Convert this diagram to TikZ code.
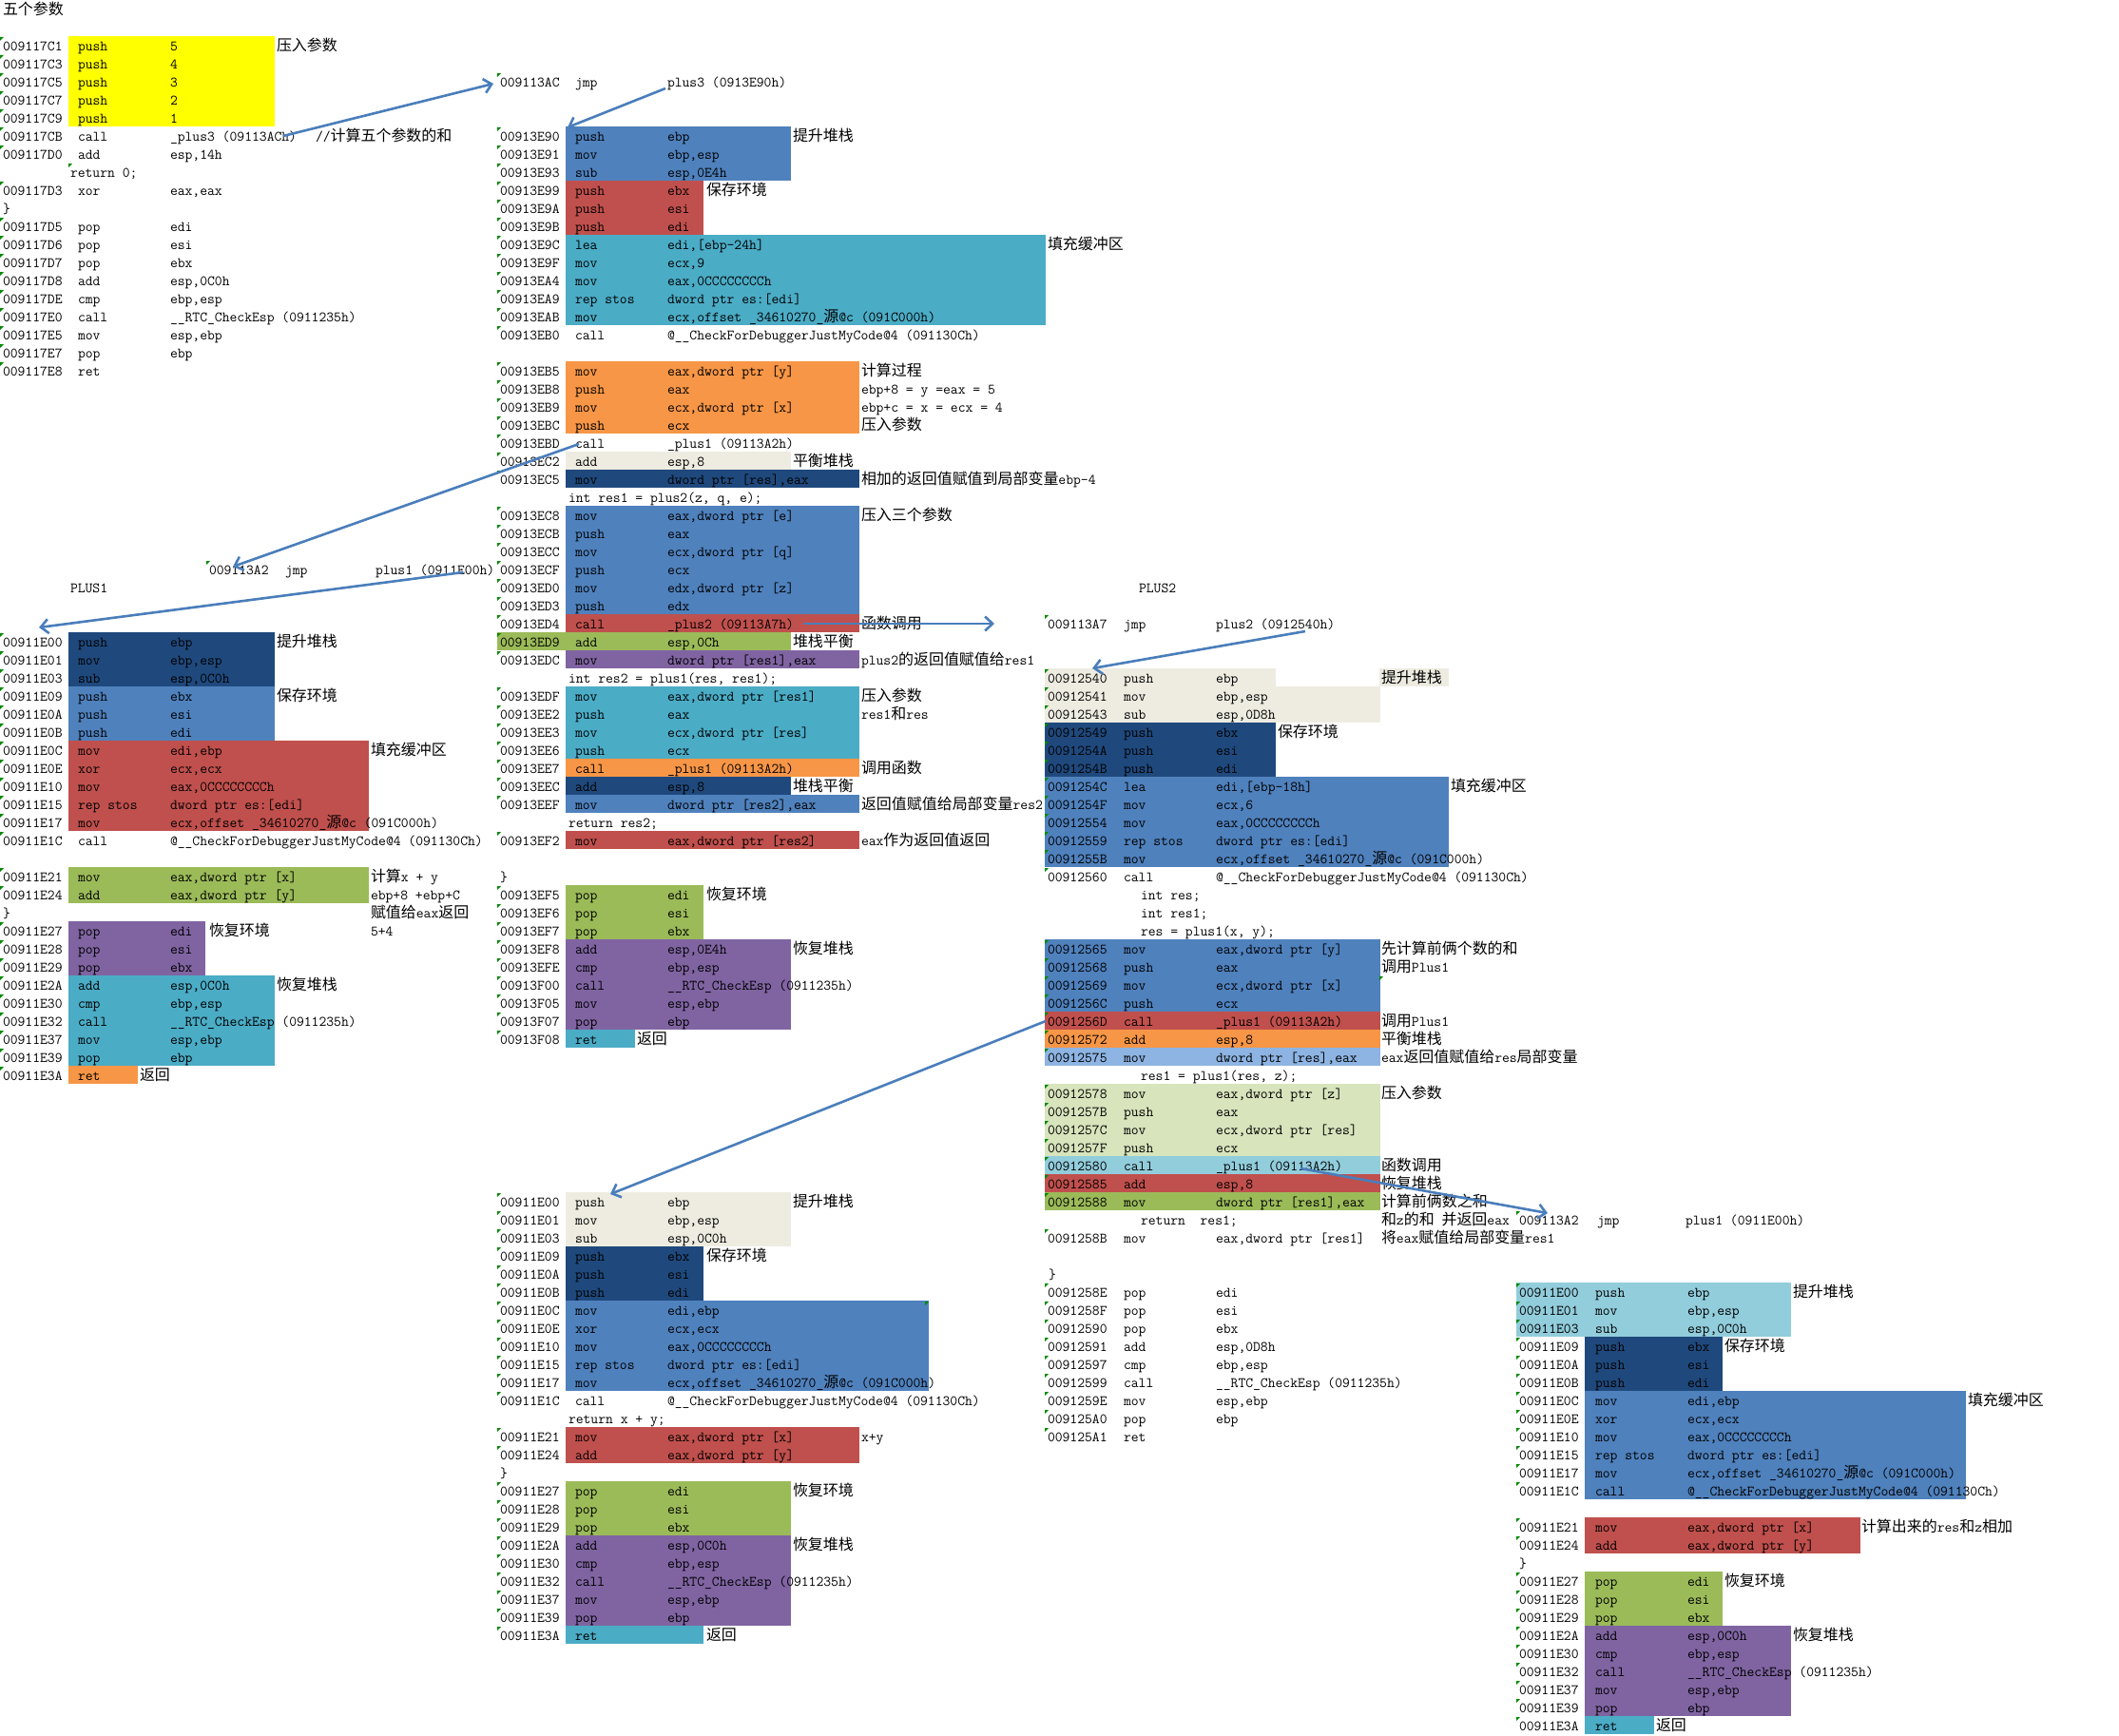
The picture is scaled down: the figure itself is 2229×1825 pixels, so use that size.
\documentclass[tikz,border=0pt]{standalone}
\usepackage{fontspec}
\newfontfamily\cjk{Noto Sans CJK SC}[Scale=1.05]
\usetikzlibrary{arrows.meta}
\definecolor{cYel}{HTML}{FFFF00}
\definecolor{cNavy}{HTML}{1F497D}
\definecolor{cBlue}{HTML}{4F81BD}
\definecolor{cRed}{HTML}{C0504D}
\definecolor{cAqua}{HTML}{4BACC6}
\definecolor{cOrg}{HTML}{F79646}
\definecolor{cBeige}{HTML}{EEECE1}
\definecolor{cGreen}{HTML}{9BBB59}
\definecolor{cPurp}{HTML}{8064A2}
\definecolor{cLBlue}{HTML}{8DB4E2}
\definecolor{cLGreen}{HTML}{D7E4BC}
\definecolor{cLAqua}{HTML}{92CDDC}
\definecolor{cArr}{HTML}{4A7EBB}
\definecolor{cTri}{HTML}{008A00}
\newcount\nodecnt
\newcommand\zh[1]{{\cjk #1}}
\newcommand\Tx[3]{\global\advance\nodecnt by 1 \node[txt,name=t\the\nodecnt] at (#1,{19*(#2)+15.5}) {#3};}
\newcommand\Tri[2]{\fill[tri] ({#1},{19*(#2)+1}) -- ++(4,0) -- ++(-4,4) -- cycle;}
\newcommand\Ln[4]{\Tri{\xa-3}{#1}\Tx{\xa}{#1}{#2}\Tx{\xm}{#1}{#3}\Tx{\xo}{#1}{#4}}
\newcommand\Bx[5]{\fill[#1] (#2,{19*(#4)}) rectangle (#3,{19*(#5)+19});}
\begin{document}
\begin{tikzpicture}[x=1pt,y=-1pt,
  txt/.style={anchor=base west,inner sep=0pt,outer sep=0pt,font=\fontsize{15.2}{19}\selectfont\ttfamily},
  tri/.style={fill=cTri},
  arr/.style={draw=cArr,line width=2.6pt,-{Straight Barb[length=8pt,width=15pt]}}]
\useasboundingbox (0,0) rectangle (2229,1825);
\fill[white] (0,0) rectangle (2229,1825);
% ================= boxes =================
% col1
\Bx{cYel}{72}{289}{2}{6}
\Bx{cNavy}{72}{289}{35}{37}
\Bx{cBlue}{72}{289}{38}{40}
\Bx{cRed}{72}{387.5}{41}{45}
\Bx{cGreen}{72}{387.5}{48}{49}
\Bx{cPurp}{72}{216}{51}{53}
\Bx{cAqua}{72}{289}{54}{58}
\Bx{cOrg}{72}{145}{59}{59}
% col2 top
\Bx{cBlue}{595}{832}{7}{9}
\Bx{cRed}{595}{740}{10}{12}
\Bx{cAqua}{595}{1100}{13}{17}
\Bx{cOrg}{595}{904}{20}{23}
\Bx{cBeige}{595}{832}{25}{25}
\Bx{cNavy}{595}{904}{26}{26}
\Bx{cBlue}{595}{904}{28}{33}
\Bx{cRed}{595}{904}{34}{34}
\Bx{cGreen}{523}{832}{35}{35}
\Bx{cPurp}{595}{904}{36}{36}
\Bx{cAqua}{595}{904}{38}{41}
\Bx{cOrg}{595}{904}{42}{42}
\Bx{cNavy}{595}{832}{43}{43}
\Bx{cBlue}{595}{904}{44}{44}
\Bx{cRed}{595}{904}{46}{46}
\Bx{cGreen}{595}{740}{49}{51}
\Bx{cPurp}{595}{832}{52}{56}
\Bx{cAqua}{595}{668}{57}{57}
% col2 bottom
\Bx{cBeige}{595}{832}{66}{68}
\Bx{cNavy}{595}{740}{69}{71}
\Bx{cBlue}{595}{977}{72}{76}
\Bx{cRed}{595}{904}{79}{80}
\Bx{cGreen}{595}{832}{82}{84}
\Bx{cPurp}{595}{832}{85}{89}
\Bx{cAqua}{595}{740}{90}{90}
% col3
\Bx{cBeige}{1099}{1342}{37}{37}
\Bx{cBeige}{1451}{1524}{37}{37}
\Bx{cBeige}{1099}{1452}{38}{39}
\Bx{cNavy}{1099}{1342}{40}{42}
\Bx{cBlue}{1099}{1524}{43}{47}
\Bx{cBlue}{1099}{1452}{52}{55}
\Bx{cRed}{1099}{1452}{56}{56}
\Bx{cOrg}{1099}{1452}{57}{57}
\Bx{cLBlue}{1099}{1452}{58}{58}
\Bx{cLGreen}{1099}{1452}{60}{63}
\Bx{cLAqua}{1099}{1452}{64}{64}
\Bx{cRed}{1099}{1452}{65}{65}
\Bx{cGreen}{1099}{1452}{66}{66}
% col4
\Bx{cLAqua}{1595}{1884}{71}{73}
\Bx{cNavy}{1667}{1812}{74}{76}
\Bx{cBlue}{1667}{2068}{77}{82}
\Bx{cRed}{1667}{1957}{84}{85}
\Bx{cGreen}{1667}{1812}{87}{89}
\Bx{cPurp}{1667}{1884}{90}{94}
\Bx{cAqua}{1667}{1740}{95}{95}
% ================= column 1 =================
\def\xa{3}\def\xm{82}\def\xo{179}
\Tx{3}{0}{\zh{五个参数}}
\Ln{2}{009117C1}{push}{5}
\Ln{3}{009117C3}{push}{4}
\Ln{4}{009117C5}{push}{3}
\Ln{5}{009117C7}{push}{2}
\Ln{6}{009117C9}{push}{1}
\Tx{291}{2}{\zh{压入参数}}
\Ln{7}{009117CB}{call}{\_plus3 (09113ACh)}
\Tx{332}{7}{//\zh{计算五个参数的和}}
\Ln{8}{009117D0}{add}{esp,14h}
\Tri{72}{9}\Tx{74}{9}{return 0;}
\Ln{10}{009117D3}{xor}{eax,eax}
\Tx{3}{11}{\}}
\Ln{12}{009117D5}{pop}{edi}
\Ln{13}{009117D6}{pop}{esi}
\Ln{14}{009117D7}{pop}{ebx}
\Ln{15}{009117D8}{add}{esp,0C0h}
\Ln{16}{009117DE}{cmp}{ebp,esp}
\Ln{17}{009117E0}{call}{\_\_RTC\_CheckEsp (0911235h)}
\Ln{18}{009117E5}{mov}{esp,ebp}
\Ln{19}{009117E7}{pop}{ebp}
\Ln{20}{009117E8}{ret}{}
% jmp plus1
\Tri{217}{31}\Tx{220}{31}{009113A2}\Tx{300}{31}{jmp}\Tx{395}{31}{plus1 (0911E00h)}
\Tx{74}{32}{PLUS1}
\Ln{35}{00911E00}{push}{ebp}
\Ln{36}{00911E01}{mov}{ebp,esp}
\Ln{37}{00911E03}{sub}{esp,0C0h}
\Ln{38}{00911E09}{push}{ebx}
\Ln{39}{00911E0A}{push}{esi}
\Ln{40}{00911E0B}{push}{edi}
\Ln{41}{00911E0C}{mov}{edi,ebp}
\Ln{42}{00911E0E}{xor}{ecx,ecx}
\Ln{43}{00911E10}{mov}{eax,0CCCCCCCCh}
\Ln{44}{00911E15}{rep stos}{dword ptr es:[edi]}
\Ln{45}{00911E17}{mov}{ecx,offset \_34610270\_\zh{源}@c (091C000h)}
\Ln{46}{00911E1C}{call}{@\_\_CheckForDebuggerJustMyCode@4 (091130Ch)}
\Ln{48}{00911E21}{mov}{eax,dword ptr [x]}
\Ln{49}{00911E24}{add}{eax,dword ptr [y]}
\Tx{3}{50}{\}}
\Ln{51}{00911E27}{pop}{edi}
\Ln{52}{00911E28}{pop}{esi}
\Ln{53}{00911E29}{pop}{ebx}
\Ln{54}{00911E2A}{add}{esp,0C0h}
\Ln{55}{00911E30}{cmp}{ebp,esp}
\Ln{56}{00911E32}{call}{\_\_RTC\_CheckEsp (0911235h)}
\Ln{57}{00911E37}{mov}{esp,ebp}
\Ln{58}{00911E39}{pop}{ebp}
\Ln{59}{00911E3A}{ret}{}
\Tx{291}{35}{\zh{提升堆栈}}
\Tx{291}{38}{\zh{保存环境}}
\Tx{390}{41}{\zh{填充缓冲区}}
\Tx{390}{48}{\zh{计算}x + y}
\Tx{390}{49}{ebp+8 +ebp+C}
\Tx{390}{50}{\zh{赋值给}eax\zh{返回}}
\Tx{390}{51}{5+4}
\Tx{220}{51}{\zh{恢复环境}}
\Tx{291}{54}{\zh{恢复堆栈}}
\Tx{147}{59}{\zh{返回}}
% ================= column 2 =================
\def\xa{526}\def\xm{605}\def\xo{702}
\Ln{4}{009113AC}{jmp}{plus3 (0913E90h)}
\Ln{7}{00913E90}{push}{ebp}
\Ln{8}{00913E91}{mov}{ebp,esp}
\Ln{9}{00913E93}{sub}{esp,0E4h}
\Ln{10}{00913E99}{push}{ebx}
\Ln{11}{00913E9A}{push}{esi}
\Ln{12}{00913E9B}{push}{edi}
\Ln{13}{00913E9C}{lea}{edi,[ebp-24h]}
\Ln{14}{00913E9F}{mov}{ecx,9}
\Ln{15}{00913EA4}{mov}{eax,0CCCCCCCCh}
\Ln{16}{00913EA9}{rep stos}{dword ptr es:[edi]}
\Ln{17}{00913EAB}{mov}{ecx,offset \_34610270\_\zh{源}@c (091C000h)}
\Ln{18}{00913EB0}{call}{@\_\_CheckForDebuggerJustMyCode@4 (091130Ch)}
\Ln{20}{00913EB5}{mov}{eax,dword ptr [y]}
\Ln{21}{00913EB8}{push}{eax}
\Ln{22}{00913EB9}{mov}{ecx,dword ptr [x]}
\Ln{23}{00913EBC}{push}{ecx}
\Ln{24}{00913EBD}{call}{\_plus1 (09113A2h)}
\Ln{25}{00913EC2}{add}{esp,8}
\Ln{26}{00913EC5}{mov}{dword ptr [res],eax}
\Tx{598}{27}{int res1 = plus2(z, q, e);}
\Ln{28}{00913EC8}{mov}{eax,dword ptr [e]}
\Ln{29}{00913ECB}{push}{eax}
\Ln{30}{00913ECC}{mov}{ecx,dword ptr [q]}
\Ln{31}{00913ECF}{push}{ecx}
\Ln{32}{00913ED0}{mov}{edx,dword ptr [z]}
\Ln{33}{00913ED3}{push}{edx}
\Ln{34}{00913ED4}{call}{\_plus2 (09113A7h)}
\Ln{35}{00913ED9}{add}{esp,0Ch}
\Ln{36}{00913EDC}{mov}{dword ptr [res1],eax}
\Tx{598}{37}{int res2 = plus1(res, res1);}
\Ln{38}{00913EDF}{mov}{eax,dword ptr [res1]}
\Ln{39}{00913EE2}{push}{eax}
\Ln{40}{00913EE3}{mov}{ecx,dword ptr [res]}
\Ln{41}{00913EE6}{push}{ecx}
\Ln{42}{00913EE7}{call}{\_plus1 (09113A2h)}
\Ln{43}{00913EEC}{add}{esp,8}
\Ln{44}{00913EEF}{mov}{dword ptr [res2],eax}
\Tx{598}{45}{return res2;}
\Ln{46}{00913EF2}{mov}{eax,dword ptr [res2]}
\Tx{526}{48}{\}}
\Ln{49}{00913EF5}{pop}{edi}
\Ln{50}{00913EF6}{pop}{esi}
\Ln{51}{00913EF7}{pop}{ebx}
\Ln{52}{00913EF8}{add}{esp,0E4h}
\Ln{53}{00913EFE}{cmp}{ebp,esp}
\Ln{54}{00913F00}{call}{\_\_RTC\_CheckEsp (0911235h)}
\Ln{55}{00913F05}{mov}{esp,ebp}
\Ln{56}{00913F07}{pop}{ebp}
\Ln{57}{00913F08}{ret}{}
\Tx{834}{7}{\zh{提升堆栈}}
\Tx{743}{10}{\zh{保存环境}}
\Tx{1102}{13}{\zh{填充缓冲区}}
\Tx{906}{20}{\zh{计算过程}}
\Tx{906}{21}{ebp+8 = y =eax = 5}
\Tx{906}{22}{ebp+c = x = ecx = 4}
\Tx{906}{23}{\zh{压入参数}}
\Tx{834}{25}{\zh{平衡堆栈}}
\Tx{906}{26}{\zh{相加的返回值赋值到局部变量}ebp-4}
\Tx{906}{28}{\zh{压入三个参数}}
\Tx{906}{34}{\zh{函数调用}}
\Tx{834}{35}{\zh{堆栈平衡}}
\Tx{906}{36}{plus2\zh{的返回值赋值给}res1}
\Tx{906}{38}{\zh{压入参数}}
\Tx{906}{39}{res1\zh{和}res}
\Tx{906}{42}{\zh{调用函数}}
\Tx{834}{43}{\zh{堆栈平衡}}
\Tx{906}{44}{\zh{返回值赋值给局部变量}res2}
\Tx{906}{46}{eax\zh{作为返回值返回}}
\Tx{743}{49}{\zh{恢复环境}}
\Tx{834}{52}{\zh{恢复堆栈}}
\Tx{670}{57}{\zh{返回}}
% col2 bottom
\Ln{66}{00911E00}{push}{ebp}
\Ln{67}{00911E01}{mov}{ebp,esp}
\Ln{68}{00911E03}{sub}{esp,0C0h}
\Ln{69}{00911E09}{push}{ebx}
\Ln{70}{00911E0A}{push}{esi}
\Ln{71}{00911E0B}{push}{edi}
\Ln{72}{00911E0C}{mov}{edi,ebp}
\Ln{73}{00911E0E}{xor}{ecx,ecx}
\Ln{74}{00911E10}{mov}{eax,0CCCCCCCCh}
\Ln{75}{00911E15}{rep stos}{dword ptr es:[edi]}
\Ln{76}{00911E17}{mov}{ecx,offset \_34610270\_\zh{源}@c (091C000h)}
\Ln{77}{00911E1C}{call}{@\_\_CheckForDebuggerJustMyCode@4 (091130Ch)}
\Tx{598}{78}{return x + y;}
\Ln{79}{00911E21}{mov}{eax,dword ptr [x]}
\Ln{80}{00911E24}{add}{eax,dword ptr [y]}
\Tx{526}{81}{\}}
\Ln{82}{00911E27}{pop}{edi}
\Ln{83}{00911E28}{pop}{esi}
\Ln{84}{00911E29}{pop}{ebx}
\Ln{85}{00911E2A}{add}{esp,0C0h}
\Ln{86}{00911E30}{cmp}{ebp,esp}
\Ln{87}{00911E32}{call}{\_\_RTC\_CheckEsp (0911235h)}
\Ln{88}{00911E37}{mov}{esp,ebp}
\Ln{89}{00911E39}{pop}{ebp}
\Ln{90}{00911E3A}{ret}{}
\Tri{973}{72}
\Tx{834}{66}{\zh{提升堆栈}}
\Tx{743}{69}{\zh{保存环境}}
\Tx{906}{79}{x+y}
\Tx{834}{82}{\zh{恢复环境}}
\Tx{834}{85}{\zh{恢复堆栈}}
\Tx{743}{90}{\zh{返回}}
% ================= column 3 =================
\def\xa{1102}\def\xm{1182}\def\xo{1279}
\Tx{1198}{32}{PLUS2}
\Ln{34}{009113A7}{jmp}{plus2 (0912540h)}
\Ln{37}{00912540}{push}{ebp}
\Ln{38}{00912541}{mov}{ebp,esp}
\Ln{39}{00912543}{sub}{esp,0D8h}
\Ln{40}{00912549}{push}{ebx}
\Ln{41}{0091254A}{push}{esi}
\Ln{42}{0091254B}{push}{edi}
\Ln{43}{0091254C}{lea}{edi,[ebp-18h]}
\Ln{44}{0091254F}{mov}{ecx,6}
\Ln{45}{00912554}{mov}{eax,0CCCCCCCCh}
\Ln{46}{00912559}{rep stos}{dword ptr es:[edi]}
\Ln{47}{0091255B}{mov}{ecx,offset \_34610270\_\zh{源}@c (091C000h)}
\Ln{48}{00912560}{call}{@\_\_CheckForDebuggerJustMyCode@4 (091130Ch)}
\Tx{1200}{49}{int res;}
\Tx{1200}{50}{int res1;}
\Tx{1200}{51}{res = plus1(x, y);}
\Ln{52}{00912565}{mov}{eax,dword ptr [y]}
\Ln{53}{00912568}{push}{eax}
\Ln{54}{00912569}{mov}{ecx,dword ptr [x]}
\Ln{55}{0091256C}{push}{ecx}
\Ln{56}{0091256D}{call}{\_plus1 (09113A2h)}
\Ln{57}{00912572}{add}{esp,8}
\Ln{58}{00912575}{mov}{dword ptr [res],eax}
\Tx{1200}{59}{res1 = plus1(res, z);}
\Ln{60}{00912578}{mov}{eax,dword ptr [z]}
\Ln{61}{0091257B}{push}{eax}
\Ln{62}{0091257C}{mov}{ecx,dword ptr [res]}
\Ln{63}{0091257F}{push}{ecx}
\Ln{64}{00912580}{call}{\_plus1 (09113A2h)}
\Ln{65}{00912585}{add}{esp,8}
\Ln{66}{00912588}{mov}{dword ptr [res1],eax}
\Tx{1200}{67}{return\ \ res1;}
\Ln{68}{0091258B}{mov}{eax,dword ptr [res1]}
\Tx{1103}{70}{\}}
\Ln{71}{0091258E}{pop}{edi}
\Ln{72}{0091258F}{pop}{esi}
\Ln{73}{00912590}{pop}{ebx}
\Ln{74}{00912591}{add}{esp,0D8h}
\Ln{75}{00912597}{cmp}{ebp,esp}
\Ln{76}{00912599}{call}{\_\_RTC\_CheckEsp (0911235h)}
\Ln{77}{0091259E}{mov}{esp,ebp}
\Ln{78}{009125A0}{pop}{ebp}
\Ln{79}{009125A1}{ret}{}
\Tri{1451}{54}
\Tx{1453}{37}{\zh{提升堆栈}}
\Tx{1344}{40}{\zh{保存环境}}
\Tx{1526}{43}{\zh{填充缓冲区}}
\Tx{1453}{52}{\zh{先计算前俩个数的和}}
\Tx{1453}{53}{\zh{调用}Plus1}
\Tx{1453}{56}{\zh{调用}Plus1}
\Tx{1453}{57}{\zh{平衡堆栈}}
\Tx{1453}{58}{eax\zh{返回值赋值给}res\zh{局部变量}}
\Tx{1453}{60}{\zh{压入参数}}
\Tx{1453}{64}{\zh{函数调用}}
\Tx{1453}{65}{\zh{恢复堆栈}}
\Tx{1453}{66}{\zh{计算前俩数之和}}
\Tx{1453}{67}{\zh{和}z\zh{的和}\ \zh{并返回}eax}
\Tx{1453}{68}{\zh{将}eax\zh{赋值给局部变量}res1}
% ================= column 4 =================
\def\xa{1598}\def\xm{1678}\def\xo{1775}
\Tri{1595}{67}\Tx{1598}{67}{009113A2}\Tx{1680}{67}{jmp}\Tx{1773}{67}{plus1 (0911E00h)}
\Ln{71}{00911E00}{push}{ebp}
\Ln{72}{00911E01}{mov}{ebp,esp}
\Ln{73}{00911E03}{sub}{esp,0C0h}
\Ln{74}{00911E09}{push}{ebx}
\Ln{75}{00911E0A}{push}{esi}
\Ln{76}{00911E0B}{push}{edi}
\Ln{77}{00911E0C}{mov}{edi,ebp}
\Ln{78}{00911E0E}{xor}{ecx,ecx}
\Ln{79}{00911E10}{mov}{eax,0CCCCCCCCh}
\Ln{80}{00911E15}{rep stos}{dword ptr es:[edi]}
\Ln{81}{00911E17}{mov}{ecx,offset \_34610270\_\zh{源}@c (091C000h)}
\Ln{82}{00911E1C}{call}{@\_\_CheckForDebuggerJustMyCode@4 (091130Ch)}
\Ln{84}{00911E21}{mov}{eax,dword ptr [x]}
\Ln{85}{00911E24}{add}{eax,dword ptr [y]}
\Tx{1598}{86}{\}}
\Ln{87}{00911E27}{pop}{edi}
\Ln{88}{00911E28}{pop}{esi}
\Ln{89}{00911E29}{pop}{ebx}
\Ln{90}{00911E2A}{add}{esp,0C0h}
\Ln{91}{00911E30}{cmp}{ebp,esp}
\Ln{92}{00911E32}{call}{\_\_RTC\_CheckEsp (0911235h)}
\Ln{93}{00911E37}{mov}{esp,ebp}
\Ln{94}{00911E39}{pop}{ebp}
\Ln{95}{00911E3A}{ret}{}
\Tx{1886}{71}{\zh{提升堆栈}}
\Tx{1814}{74}{\zh{保存环境}}
\Tx{2070}{77}{\zh{填充缓冲区}}
\Tx{1958}{84}{\zh{计算出来的}res\zh{和}z\zh{相加}}
\Tx{1814}{87}{\zh{恢复环境}}
\Tx{1886}{90}{\zh{恢复堆栈}}
\Tx{1742}{95}{\zh{返回}}
% ================= arrows =================
\coordinate (a1s) at (298,143);  \coordinate (a1e) at (519,88);
\coordinate (a2s) at (700,93);   \coordinate (a2e) at (597,134);
\coordinate (a3s) at (609,467);  \coordinate (a3e) at (245,596);
\coordinate (a4s) at (487,602);  \coordinate (a4e) at (41,660);
\coordinate (a5s) at (845,656);  \coordinate (a5e) at (1046,656);
\coordinate (a6s) at (1373,664); \coordinate (a6e) at (1149,703);
\coordinate (a7s) at (1100,1074);\coordinate (a7e) at (642,1256);
\coordinate (a8s) at (1368,1229);\coordinate (a8e) at (1628,1276);
\draw[arr] (a1s) -- (a1e);
\draw[arr] (a2s) -- (a2e);
\draw[arr] (a3s) -- (a3e);
\draw[arr] (a4s) -- (a4e);
\draw[arr] (a5s) -- (a5e);
\draw[arr] (a6s) -- (a6e);
\draw[arr] (a7s) -- (a7e);
\draw[arr] (a8s) -- (a8e);
\end{tikzpicture}
\end{document}
